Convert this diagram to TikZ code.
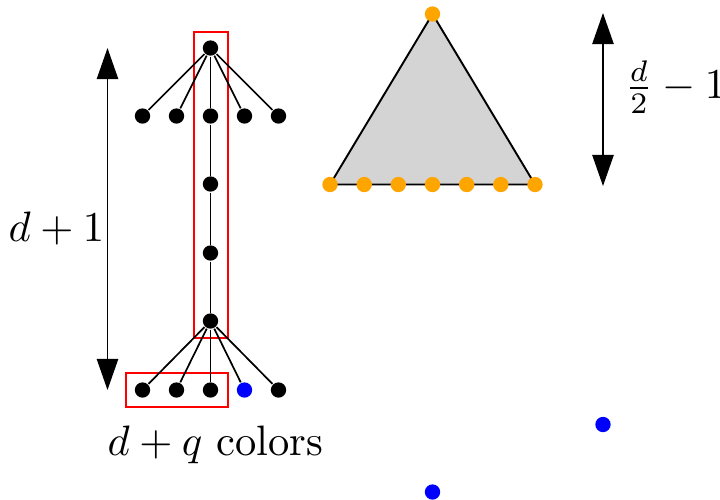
\documentclass[tikz,border=0pt]{standalone}
\usetikzlibrary{arrows.meta}
\definecolor{webordange}{RGB}{255,165,0}
\begin{document}
\begin{tikzpicture}[x=0.235pt,y=-0.235pt,
  dot/.style={circle,fill=black,inner sep=0pt,minimum size=3.6pt},
  odot/.style={dot,fill=webordange},
  bdot/.style={dot,fill=blue},
  edge/.style={line width=0.4pt},
  redbox/.style={draw=red,line width=0.45pt},
  dim/.style={line width=0.4pt,{Triangle[length=7.3pt,width=5pt]}-{Triangle[length=7.3pt,width=5pt]}}]
\useasboundingbox (0,0) rectangle (720,499);
% red boxes
\draw[redbox] (193.7,31.7) rectangle (227.7,338);
\draw[redbox] (125.7,373) rectangle (228,407);
% tree nodes
\node[dot] (t) at (210.5,48) {};
\foreach \i/\x in {1/142.5,2/176.5,3/210.5,4/244.5,5/278.5} {
  \node[dot] (u\i) at (\x,116) {};
}
\node[dot] (c1) at (210.5,184) {};
\node[dot] (c2) at (210.5,253) {};
\node[dot] (c3) at (210.5,321) {};
\node[dot] (b1) at (142.5,390) {};
\node[dot] (b2) at (176.5,390) {};
\node[dot] (b3) at (210.5,390) {};
\node[bdot] (b4) at (244.5,390) {};
\node[dot] (b5) at (278.5,390) {};
\foreach \i in {1,...,5} {
  \draw[edge] (t) -- (u\i);
  \draw[edge] (c3) -- (b\i);
}
\draw[edge] (u3) -- (c1) -- (c2) -- (c3);
% left dimension
\coordinate (la) at (107.5,48);
\coordinate (lb) at (107.5,390);
\draw[dim] (la) -- (lb);
\node[anchor=east,inner sep=0pt] (dl) at (105,228) {$d+1$};
\node[inner sep=0pt] (cl) at (215.5,445) {$d+q$ colors};
% triangle
\coordinate (A) at (432.5,14);
\coordinate (B) at (330,184.5);
\coordinate (C) at (535,184.5);
\filldraw[fill=black!17,draw=black,line width=0.45pt] (A) -- (B) -- (C) -- cycle;
\node[odot] (oa) at (A) {};
\foreach \i/\x in {1/330,2/364.2,3/398.3,4/432.5,5/466.7,6/500.8,7/535} {
  \node[odot] (o\i) at (\x,184.5) {};
}
% right dimension
\coordinate (ra) at (603,13);
\coordinate (rb) at (603,186);
\draw[dim] (ra) -- (rb);
\node[anchor=west,inner sep=0pt] (dr) at (624,87) {$\frac{d}{2}-1$};
% blue dots
\node[bdot] (p1) at (603,424.5) {};
\node[bdot] (p2) at (432.5,492) {};
\end{tikzpicture}
\end{document}
